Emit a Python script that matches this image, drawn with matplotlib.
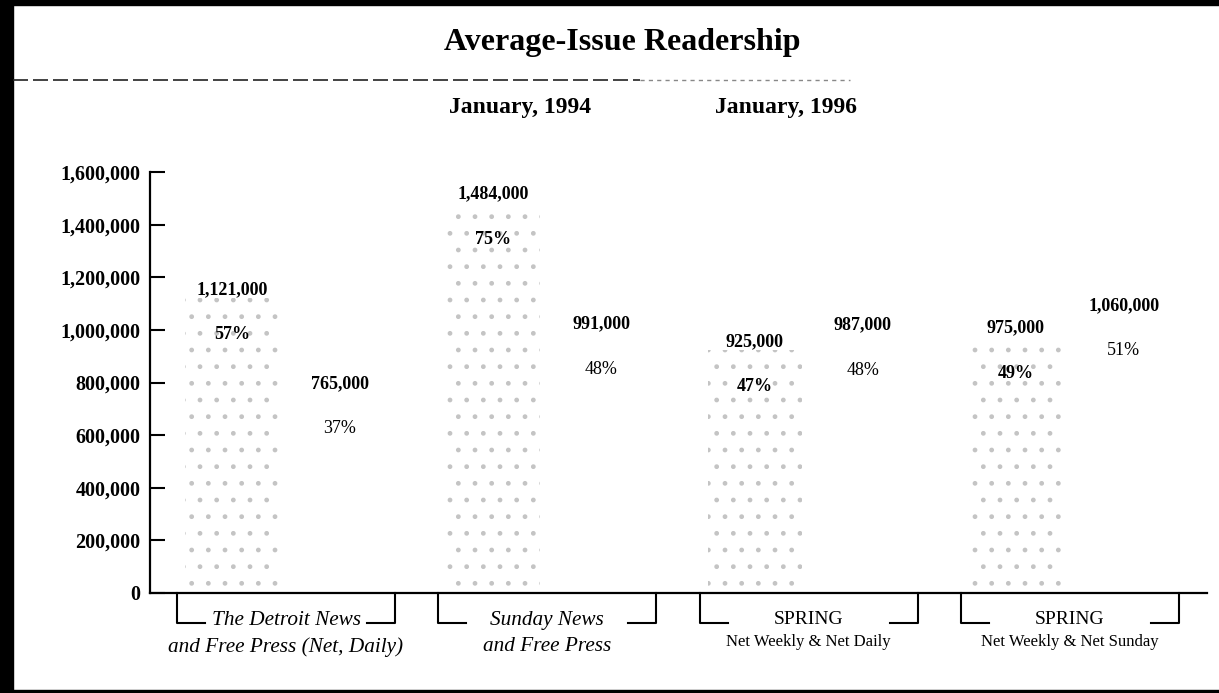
import numpy as np
import matplotlib
matplotlib.use('Agg')
import matplotlib.pyplot as plt
from matplotlib.patches import Rectangle
from matplotlib.lines import Line2D
from matplotlib.ticker import FuncFormatter

plt.rcParams['font.family'] = ['Liberation Serif', 'DejaVu Serif']

# data
title = 'Average-Issue Readership'
years = ['January, 1994', 'January, 1996']
line1 = ['The Detroit News', 'Sunday News', 'SPRING', 'SPRING']
line2 = ['and Free Press (Net, Daily)', 'and Free Press', 'Net Weekly & Net Daily', 'Net Weekly & Net Sunday']
readers_1994 = [1121000, 1484000, 925000, 975000]
readers_1996 = [765000, 991000, 987000, 1060000]
pct_1994 = [57, 75, 47, 49]
pct_1996 = [37, 48, 48, 51]
yticks = [0, 200000, 400000, 600000, 800000, 1000000, 1200000, 1400000, 1600000]

W, H = 1219, 693
fig = plt.figure(figsize=(W / 100, H / 100), dpi=100)
ax = fig.add_axes([150 / W, 1 - 593 / H, 1057 / W, 421 / H])

x = np.arange(len(line1))
off = 0.2067
bw = 0.36
# 1994 bars come out as a faint stipple on the scan, 1996 bars are blank
b94 = ax.bar(x - off, readers_1994, bw, color='white', hatch='.', edgecolor='#c4c4c4', linewidth=0)
b96 = ax.bar(x + off, readers_1996, bw, color='white', edgecolor='white', linewidth=0)

for bars, vals, pcts, pw in [(b94, readers_1994, pct_1994, 'bold'), (b96, readers_1996, pct_1996, 'normal')]:
    for b, v, p in zip(bars, vals, pcts):
        cx = b.get_x() + b.get_width() / 2
        top = b.get_height()
        ax.annotate(f'{v:,}', (cx, top), xytext=(0, 6), textcoords='offset points',
                    ha='center', va='center', fontsize=13, fontweight='bold')
        ax.annotate(f'{p}%', (cx, top), xytext=(0, -26.5), textcoords='offset points',
                    ha='center', va='center', fontsize=13, fontweight=pw)

ax.set_xlim(-0.5205, 3.5247)
ax.set_ylim(0, 1600000)
ax.set_yticks(yticks)
ax.yaxis.set_major_formatter(FuncFormatter(lambda v, p: f'{int(v):,}'))
ax.tick_params(axis='y', direction='in', length=11, width=1.5, pad=7, labelsize=14.5)
for lab in ax.get_yticklabels():
    lab.set_fontweight('bold')
ax.set_xticks([])
for s in ['top', 'right']:
    ax.spines[s].set_visible(False)
ax.spines['left'].set_linewidth(1.6)
ax.spines['bottom'].set_linewidth(1.6)

# group brackets under the axis
half = 0.417
seg = 0.107
drop = -114000
for i in range(len(line1)):
    L, R = x[i] - half, x[i] + half
    ax.plot([L, L, L + seg], [0, drop, drop], color='black', lw=1.5, clip_on=False)
    ax.plot([R - seg, R, R], [drop, drop, 0], color='black', lw=1.5, clip_on=False)
    if line1[i] == 'SPRING':
        ax.text(x[i], -100000, line1[i], ha='center', va='center', fontsize=14, clip_on=False)
        ax.text(x[i], -188000, line2[i], ha='center', va='center', fontsize=12, clip_on=False)
    else:
        ax.text(x[i], -103000, line1[i], ha='center', va='center', fontsize=15.3,
                style='italic', clip_on=False)
        ax.text(x[i], -205000, line2[i], ha='center', va='center', fontsize=15.3,
                style='italic', clip_on=False)

fig.text(622 / W, 1 - 50 / H, title, ha='center', va='baseline', fontsize=23, fontweight='bold')
fig.text(520 / W, 1 - 113 / H, years[0], ha='center', va='baseline', fontsize=17, fontweight='bold')
fig.text(786 / W, 1 - 113 / H, years[1], ha='center', va='baseline', fontsize=17, fontweight='bold')

fig.add_artist(Line2D([13 / W, 640 / W], [1 - 80 / H, 1 - 80 / H], color='#222222', lw=1.2,
                      linestyle=(0, (9, 3))))
fig.add_artist(Line2D([640 / W, 850 / W], [1 - 80 / H, 1 - 80 / H], color='#888888', lw=1,
                      linestyle=(0, (3, 3))))

# scan border
fig.add_artist(Rectangle((0, 0), 13 / W, 1, color='black'))
fig.add_artist(Rectangle((0, 1 - 5 / H), 1, 5 / H, color='black'))
fig.add_artist(Rectangle((0, 0), 1, 3 / H, color='black'))

fig.savefig('out.png', dpi=100)
